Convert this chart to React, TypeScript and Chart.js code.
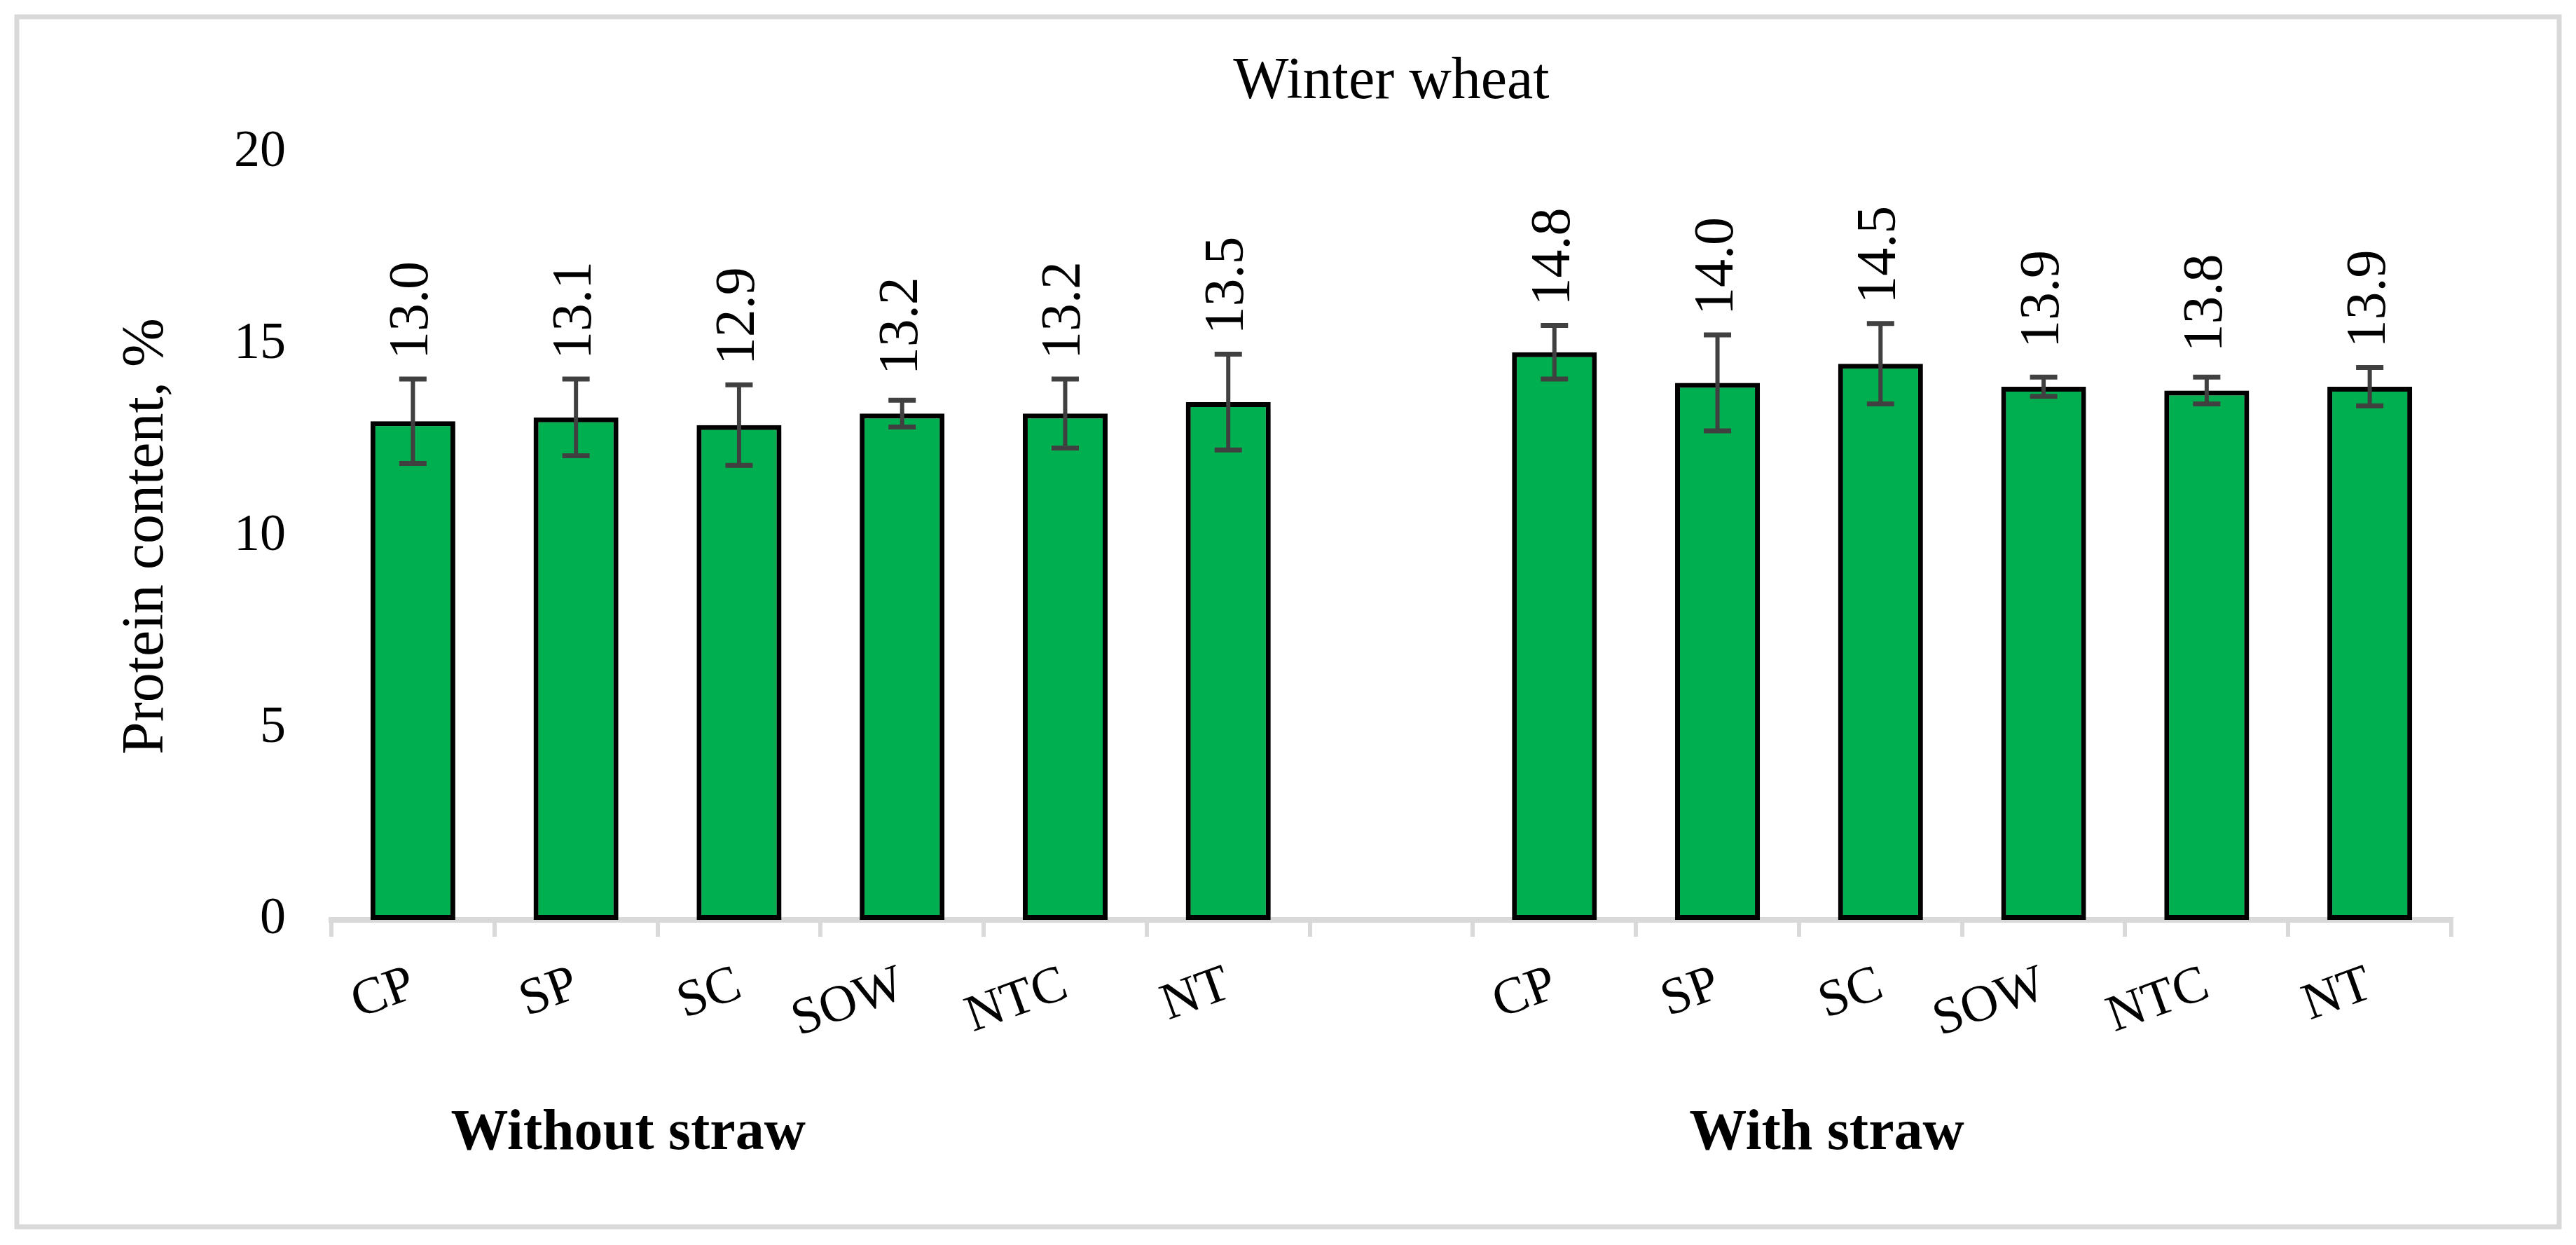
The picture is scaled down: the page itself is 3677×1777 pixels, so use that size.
import React, { useEffect, useRef } from 'react';
import { Chart, registerables } from 'chart.js';

Chart.register(...registerables);

const categories = ['CP', 'SP', 'SC', 'SOW', 'NTC', 'NT', '', 'CP', 'SP', 'SC', 'SOW', 'NTC', 'NT'];
const protein = [13.0, 13.1, 12.9, 13.2, 13.2, 13.5, null, 14.8, 14.0, 14.5, 13.9, 13.8, 13.9];
const errors = [1.1, 1.0, 1.05, 0.35, 0.9, 1.25, null, 0.7, 1.25, 1.05, 0.25, 0.35, 0.5];
const yTicks = [0, 5, 10, 15, 20];
const groupNames = ['Without straw', 'With straw'];
const groupCenters = [1.32, 8.67];

const SERIF = '"Liberation Serif", "Times New Roman", serif';
const W = 3677;
const H = 1777;

const decor = {
    id: 'decor',
    beforeDraw(chart: any) {
        const { ctx } = chart;
        ctx.save();
        ctx.fillStyle = '#fff';
        ctx.fillRect(0, 0, chart.width, chart.height);
        ctx.strokeStyle = '#d9d9d9';
        ctx.lineWidth = 7;
        ctx.strokeRect(24, 24, chart.width - 48, chart.height - 50);
        ctx.restore();
    },
    beforeDatasetsDraw(chart: any) {
        const { ctx } = chart;
        ctx.save();
        ctx.shadowColor = 'rgba(0,0,0,0.35)';
        ctx.shadowBlur = 14;
        ctx.shadowOffsetX = 0;
        ctx.shadowOffsetY = 4;
    },
    afterDatasetsDraw(chart: any) {
        const { ctx, chartArea } = chart;
        ctx.restore();
        const x = chart.scales.x;
        const y = chart.scales.y;
        const meta = chart.getDatasetMeta(0);

        ctx.save();
        // error bars
        ctx.strokeStyle = '#404040';
        meta.data.forEach((bar: any, i: number) => {
            const v = protein[i];
            const e = errors[i];
            if (v == null || e == null) return;
            const top = y.getPixelForValue(v + e);
            const bot = y.getPixelForValue(v - e);
            ctx.lineWidth = 6;
            ctx.beginPath();
            ctx.moveTo(bar.x, top);
            ctx.lineTo(bar.x, bot);
            ctx.stroke();
            ctx.lineWidth = 7;
            ctx.beginPath();
            ctx.moveTo(bar.x - 19.5, top);
            ctx.lineTo(bar.x + 19.5, top);
            ctx.moveTo(bar.x - 19.5, bot);
            ctx.lineTo(bar.x + 19.5, bot);
            ctx.stroke();
        });

        // value labels
        ctx.fillStyle = '#000';
        ctx.font = `80px ${SERIF}`;
        ctx.textAlign = 'left';
        ctx.textBaseline = 'middle';
        meta.data.forEach((bar: any, i: number) => {
            const v = protein[i];
            const e = errors[i];
            if (v == null || e == null) return;
            const errTop = y.getPixelForValue(v + e);
            const start = Math.min(errTop - 28, bar.y - 55);
            ctx.save();
            ctx.translate(bar.x, start);
            ctx.rotate(-Math.PI / 2);
            ctx.fillText(v.toFixed(1), 0, 0);
            ctx.restore();
        });

        // category labels
        ctx.font = `74px ${SERIF}`;
        ctx.textAlign = 'right';
        ctx.textBaseline = 'top';
        categories.forEach((c, i) => {
            if (!c) return;
            const px = x.getPixelForValue(i);
            ctx.save();
            ctx.translate(px - 12, chartArea.bottom + 56);
            ctx.rotate((-20 * Math.PI) / 180);
            ctx.fillText(c, 0, 0);
            ctx.restore();
        });

        // group labels
        ctx.font = `bold 82px ${SERIF}`;
        ctx.textAlign = 'center';
        ctx.textBaseline = 'alphabetic';
        groupNames.forEach((g, i) => {
            ctx.fillText(g, x.getPixelForValue(groupCenters[i]), chartArea.bottom + 327);
        });

        // title
        ctx.font = `84px ${SERIF}`;
        ctx.fillText('Winter wheat', (chartArea.left + chartArea.right) / 2, 140);

        // y axis title
        ctx.save();
        ctx.translate(232, (chartArea.top + chartArea.bottom) / 2);
        ctx.rotate(-Math.PI / 2);
        ctx.font = `84px ${SERIF}`;
        ctx.fillText('Protein content, %', 0, 0);
        ctx.restore();

        ctx.restore();
    },
};

const App: React.FC = () => {
    const chartRef = useRef<HTMLCanvasElement>(null);
    const chartInstance = useRef<Chart | null>(null);

    useEffect(() => {
        if (chartRef.current) {
            if (chartInstance.current) {
                chartInstance.current.destroy();
            }
            chartInstance.current = new Chart(chartRef.current, {
                type: 'bar',
                data: {
                    labels: categories,
                    datasets: [
                        {
                            data: protein,
                            backgroundColor: '#00b050',
                            borderColor: '#000000',
                            borderWidth: 7,
                            borderSkipped: false,
                            barPercentage: 0.52,
                            categoryPercentage: 1.0,
                        },
                    ],
                },
                options: {
                    animation: false,
                    responsive: false,
                    devicePixelRatio: 1,
                    layout: { padding: { left: 0, top: 218, right: 178, bottom: 0 } },
                    plugins: {
                        legend: { display: false },
                        title: { display: false },
                        tooltip: { enabled: false },
                    },
                    scales: {
                        x: {
                            grid: {
                                display: true,
                                drawOnChartArea: false,
                                drawTicks: true,
                                tickLength: 24,
                                color: '#d9d9d9',
                                lineWidth: 6,
                                offset: true,
                            },
                            border: { display: true, color: '#d9d9d9', width: 8 },
                            ticks: { display: false },
                            afterFit: (s: any) => {
                                s.height = H - 1313;
                            },
                        },
                        y: {
                            min: 0,
                            max: 20,
                            grid: { display: false, drawTicks: false },
                            border: { display: false },
                            ticks: {
                                padding: 65,
                                color: '#000',
                                font: { family: SERIF, size: 74 },
                            },
                            afterBuildTicks: (s: any) => {
                                s.ticks = yTicks.map((v) => ({ value: v }));
                            },
                            afterFit: (s: any) => {
                                s.width = 473;
                            },
                        },
                    },
                },
                plugins: [decor],
            });
        }

        return () => {
            if (chartInstance.current) {
                chartInstance.current.destroy();
                chartInstance.current = null;
            }
        };
    }, []);

    return (
        <div style={{ position: 'absolute', left: 0, top: 0, width: W, height: H, background: '#fff' }}>
            <canvas ref={chartRef} width={W} height={H} style={{ display: 'block' }} />
        </div>
    );
};

export default App;
